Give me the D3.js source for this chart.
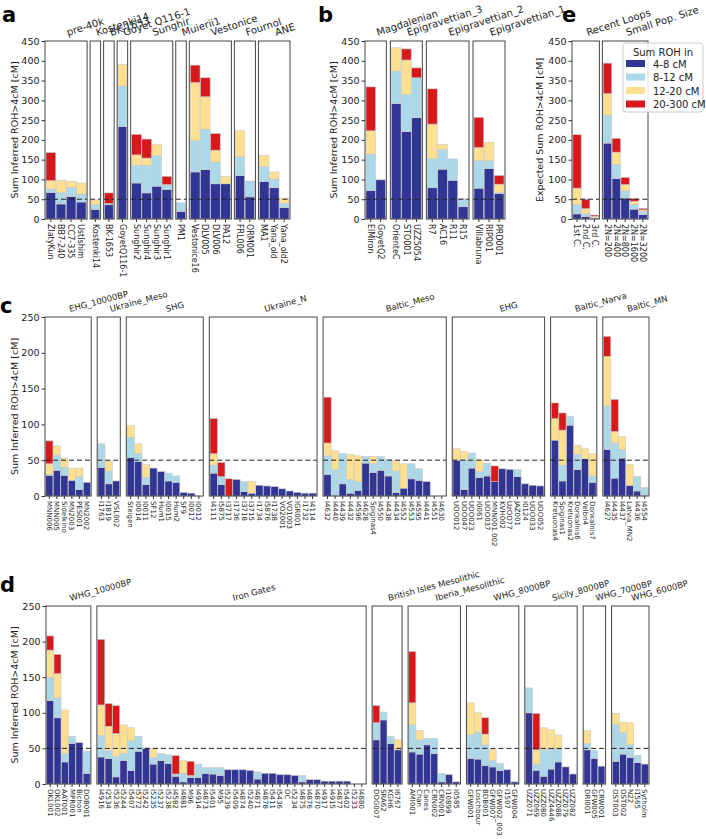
<!DOCTYPE html>
<html><head><meta charset="utf-8">
<script src="https://cdn.jsdelivr.net/npm/d3@7"></script>
<style>body{margin:0;background:#fff} svg{display:block} text{font-family:"DejaVu Sans",sans-serif;fill:#222}</style>
</head><body><svg id="chart" width="706" height="839"></svg>
<script>
// ---------- shared ----------
const rohKeys = ["4-8 cM","8-12 cM","12-20 cM","20-300 cM"];
const rohColors = ["#313695","#abd9e9","#fee090","#d7191c"];

// ---------- panel a ----------
const groupsA = ["pre-40k","Kostenki14","BK-1653","Goyet Q116-1","Sunghir","Muierii1","Vestonice","Fournol","ANE"];
const sizesA = [4,1,1,1,4,1,4,2,3];
const samplesA = ["ZlatyKun","BB7-240","CC7-335","UstIshim","Kostenki14","BK-1653","GoyetQ116-1","Sunghir2","Sunghir4","Sunghir3","Sunghir1","PM1","Vestonice16","DLV005","DLV006","PA12","FRL006","ORM001","MA1","Yana_old","Yana_old2"];
const r48A   = [67,38,57,43,24,36,234,91,66,83,75,19,119,125,89,89,110,56,95,79,29];
const r812A  = [9,29,23,20,12,2,102,45,70,77,11,22,79,102,55,0,47,40,38,22,11];
const r1220A = [21,31,15,28,12,1,55,26,18,28,1,0,147,82,30,18,66,0,28,18,13];
const r20A   = [71,0,0,0,0,27,0,52,48,0,21,0,44,48,42,0,0,0,0,0,0];

// ---------- panel b ----------
const groupsB = ["Magdalenian","Epigravettian_3","Epigravettian_2","Epigravettian_1"];
const sizesB = [2,3,4,3];
const samplesB = ["ElMiron","GoyetQ2","OrienteC","STO001","UZZ5054","R7","AC16","R11","R15","Villabruna","RIP001","PRD001"];
const r48B   = [72,99,292,221,256,79,126,98,31,78,128,64];
const r812B  = [92,0,82,94,101,74,50,54,20,69,19,3];
const r1220B = [59,0,59,87,0,87,13,0,0,34,47,21];
const r20B   = [111,0,0,28,25,89,0,0,0,76,0,22];

// ---------- panel e ----------
const groupsE = ["Recent Loops","Small Pop. Size"];
const sizesE = [3,5];
const samplesE = ["1st C.","2nd C.","3rd C.","2N=200","2N=400","2N=800","2N=1600","2N=3200"];
const r48E   = [13,6,2,192,102,53,25,11];
const r812E  = [23,7,1,70,36,18,12,8];
const r1220E = [42,13,4,55,31,16,8,4];
const r20E   = [135,24,3,77,35,18,7,4];

// ---------- panel c ----------
const groupsC = ["EHG_10000BP","Ukraine_Meso","SHG","Ukraine_N","Baltic_Meso","EHG","Baltic_Narva","Baltic_MN"];
const sizesC = [6,3,10,14,16,12,6,6];
const samplesC = ["MNN006","MNN005","Sidelkino","MN2003","PES001","MN2002",
  "I1763","I1819","VSL002",
  "Steigen","I0014","I0011","SF12","Hum1","I0015","Hum2","SF9","I0017","I0012",
  "I4111","I5875","I3717","I1736","I3718","I3715","I1734","I5876","I1738","VO2001","VO1003","IGR001","I1732","I4114",
  "I4632","I4440","I4439","I4432","I4596","I4628","Spiginas4","I4550","I4438","I4434","I4552","I4553","I4595","I4441","I4551","I4630",
  "UOO012","UOO047","UOO023","I0061","UOO037","MNN001.002","KVH002","UzOO77","JAZ001","I0124","UOO033","UOO052",
  "Kretuonas4","Spiginas1","Kretuonas2","Donkalnis6","Velbri4","Donkalnis7",
  "I4627","I4435","I4437","Latvia_MN2","I4436","I4554"];
const r48C   = [29,36,29,22,9,19, 40,17,21, 54,48,16,39,34,21,19,5,4,0, 32,16,0,23,6,4,15,14,13,10,7,5,4,4,
  30,0,17,4,8,46,33,36,28,5,11,24,22,20,0,0, 50,9,39,26,28,20,38,37,27,17,15,14, 78,21,99,37,52,19, 65,25,53,15,7,0];
const r812C  = [1,21,11,0,18,0, 33,18,0, 28,11,10,0,0,11,9,0,0,0, 11,11,0,0,14,0,0,0,0,0,0,0,0,0,
  26,37,42,19,12,9,12,19,23,30,0,21,16,0,0,0, 0,42,21,8,18,0,0,0,10,0,0,0, 0,22,12,21,0,9, 61,49,12,0,20,12];
const r1220C = [15,13,13,17,12,0, 0,14,0, 16,14,18,0,0,0,0,0,0,0, 16,0,0,0,0,16,0,0,0,0,0,0,0,0,
  18,26,0,35,36,0,10,0,0,14,34,0,0,0,0,0, 16,11,0,17,0,0,0,0,0,0,0,0, 30,49,0,13,14,31, 69,16,18,29,0,0];
const r20C   = [32,0,0,0,0,0, 0,0,0, 0,0,0,0,0,0,0,0,0,0, 49,20,24,0,0,0,0,0,0,0,0,0,0,0,
  64,0,0,0,0,0,0,0,0,0,0,0,0,0,0,0, 0,0,0,0,0,22,0,0,0,0,0,0, 22,24,0,0,0,0, 28,45,0,0,0,0];

// ---------- panel d ----------
const groupsD = ["WHG_10000BP","Iron Gates","British Isles Mesolithic","Iberia_Mesolithic","WHG_8000BP","Sicily_8000BP","WHG_7000BP","WHG_6000BP"];
const sizesD = [6,36,4,7,7,7,3,5];
const samplesD = ["OKL001","OKL002","AAT001","MPR001","Bichon","DOB001",
  "I4916","I2534","I5236","I5244","I5407","I5772","I5242","I5235","I5237","I5238","I4582","I4881","M96","I4914","I4873","I5401","M95","I5239","I5409","I4874","I5240","I4871","I4878","I5411","I5436","OC","I5234","I4875","I4876","I4870","I4917","I4915","I4877","I5402","I5233","I4880",
  "DOG007","SRA62","KGH6","I6767",
  "AMI001","Chan","Canes","CRN002","CRN001","I10899","I0585",
  "GFW001","Loschbour","BDB001","GFW007","GFW002_003","I1507","GFW004",
  "UZZ071","UZZ069","UZZ080","UZZ4446","UZZ088","UZZ079","UZZ082",
  "DRI001","GFW005","CRW001",
  "OST003","OST002","N22","I1565","Sytholm"];
const r48D   = [117,93,31,57,58,15,
  38,36,10,33,19,46,50,28,33,29,11,3,9,9,15,14,12,20,20,20,19,7,15,15,13,13,12,3,6,6,4,4,4,4,0,0,
  62,90,57,48, 45,42,55,43,3,13,3, 36,35,26,24,19,20,3, 100,19,11,21,31,24,14, 48,36,25, 32,42,37,30,28];
const r812D  = [33,28,12,10,1,31,
  30,11,29,10,42,21,1,9,10,12,3,12,3,19,8,9,11,0,0,0,0,10,0,0,0,0,0,9,0,0,0,0,0,0,0,0,
  24,11,10,0, 38,20,9,21,12,0,0, 33,38,29,9,10,0,0, 35,9,37,29,18,0,0, 9,11,0, 52,30,18,10,0];
const r1220D = [38,34,61,0,0,0,
  43,34,32,40,18,0,0,13,0,0,0,18,0,0,0,0,0,0,0,0,0,0,0,0,0,0,0,0,0,0,0,0,0,0,0,0,
  0,0,0,14, 31,13,0,0,0,0,0, 45,27,15,15,0,0,0, 0,20,31,26,20,0,0, 18,0,0, 15,15,31,0,0];
const r20D   = [20,27,0,0,0,0,
  92,32,39,0,0,0,0,0,0,0,26,0,20,0,0,0,0,0,0,0,0,0,0,0,0,0,0,0,0,0,0,0,0,0,0,0,
  24,0,0,0, 72,0,0,0,0,0,0, 0,0,23,0,0,0,0, 0,51,0,0,0,0,0, 0,0,0, 0,0,0,0,0];

const yTicksTop = [0,50,100,150,200,250,300,350,400,450];
const yTicksBottom = [0,50,100,150,200,250];

const svg = d3.select("#chart");

function drawPanel(o) {
  const n = o.samples.length;
  const slot = (o.right - o.left - o.gap * (o.groups.length - 1)) / n;
  const y = d3.scaleLinear().domain([0, o.ymax]).range([o.bottom, o.top]);
  const rows = o.samples.map((s, i) => ({k0: o.s[0][i], k1: o.s[1][i], k2: o.s[2][i], k3: o.s[3][i]}));
  const layers = d3.stack().keys(["k0","k1","k2","k3"])(rows);
  let start = 0, x0 = o.left;
  o.groups.forEach((g, gi) => {
    const cnt = o.sizes[gi];
    const x1 = x0 + cnt * slot;
    const idx = d3.range(start, start + cnt);
    const xb = d3.scaleBand().domain(idx).range([x0, x1]).paddingInner(0.04).paddingOuter(0.1);
    const gEl = svg.append("g");
    layers.forEach((layer, li) => {
      gEl.selectAll(null).data(idx.filter(i => layer[i][1] - layer[i][0] > 0)).join("rect")
        .attr("x", i => xb(i)).attr("width", xb.bandwidth())
        .attr("y", i => y(layer[i][1])).attr("height", i => y(layer[i][0]) - y(layer[i][1]))
        .attr("fill", rohColors[li]).attr("stroke", "#c8c8c8").attr("stroke-width", 0.6);
    });
    gEl.append("line").attr("x1", x0).attr("x2", x1).attr("y1", y(50)).attr("y2", y(50))
      .attr("stroke", "#222").attr("stroke-width", 1).attr("stroke-dasharray", "5,3");
    const ax = gEl.append("g").attr("transform", `translate(0,${o.bottom})`)
      .call(d3.axisBottom(xb).tickFormat(i => o.samples[i]).tickSize(3).tickSizeOuter(0));
    ax.select(".domain").remove();
    ax.selectAll("line").attr("stroke", "#333");
    ax.selectAll("text").attr("transform", "rotate(90)").attr("x", 5).attr("y", 0).attr("dy", "0.35em")
      .attr("text-anchor", "start").attr("font-size", o.xFont).attr("font-family", "DejaVu Sans").attr("fill", "#222");
    gEl.append("rect").attr("x", x0).attr("y", o.top).attr("width", x1 - x0).attr("height", o.bottom - o.top)
      .attr("fill", "none").attr("stroke", "#444").attr("stroke-width", 1);
    const tx = (x0 + x1) / 2 + 2, ty = o.top - 5;
    gEl.append("text").attr("x", tx).attr("y", ty).attr("transform", `rotate(${-o.rot},${tx},${ty})`)
      .attr("font-size", o.titleFont).attr("text-anchor", "start").text(g);
    if (gi === 0) {
      const yAx = gEl.append("g").attr("transform", `translate(${x0},0)`)
        .call(d3.axisLeft(y).tickValues(o.yTicks).tickSize(3.5).tickPadding(2));
      yAx.select(".domain").remove();
      yAx.selectAll("line").attr("stroke", "#333");
      yAx.selectAll("text").attr("font-size", 9.5).attr("font-family", "DejaVu Sans").attr("fill", "#222");
    }
    start += cnt; x0 = x1 + o.gap;
  });
  svg.append("text").attr("transform", `translate(${o.ylabX},${(o.top + o.bottom) / 2}) rotate(-90)`)
    .attr("text-anchor", "middle").attr("font-size", 9.5).text(o.ylab);
  svg.append("text").attr("x", o.letterX).attr("y", o.letterY).attr("font-size", 21).attr("font-weight", "bold")
    .attr("font-family", "Liberation Sans, Arial, sans-serif").style("fill", "#000").text(o.letter);
}

const ylabInf = "Sum Inferred ROH>4cM [cM]";
drawPanel({groups: groupsA, sizes: sizesA, samples: samplesA, s: [r48A, r812A, r1220A, r20A],
  left: 45, right: 290, gap: 3, top: 41, bottom: 219, ymax: 450, yTicks: yTicksTop,
  xFont: 8, titleFont: 10, rot: 18, ylab: ylabInf, ylabX: 18, letter: "a", letterX: 2, letterY: 22});
drawPanel({groups: groupsB, sizes: sizesB, samples: samplesB, s: [r48B, r812B, r1220B, r20B],
  left: 365, right: 505, gap: 4, top: 41, bottom: 219, ymax: 450, yTicks: yTicksTop,
  xFont: 8, titleFont: 10, rot: 18, ylab: ylabInf, ylabX: 337, letter: "b", letterX: 318, letterY: 22});
drawPanel({groups: groupsE, sizes: sizesE, samples: samplesE, s: [r48E, r812E, r1220E, r20E],
  left: 572, right: 648, gap: 3, top: 41, bottom: 219, ymax: 450, yTicks: yTicksTop,
  xFont: 8, titleFont: 10, rot: 18, ylab: "Expected Sum ROH>4cM [cM]", ylabX: 543, letter: "e", letterX: 562, letterY: 22});
drawPanel({groups: groupsC, sizes: sizesC, samples: samplesC, s: [r48C, r812C, r1220C, r20C],
  left: 45, right: 649, gap: 6, top: 317, bottom: 496, ymax: 250, yTicks: yTicksBottom,
  xFont: 7, titleFont: 8.5, rot: 15, ylab: ylabInf, ylabX: 18, letter: "c", letterX: 0, letterY: 313});
drawPanel({groups: groupsD, sizes: sizesD, samples: samplesD, s: [r48D, r812D, r1220D, r20D],
  left: 46, right: 649, gap: 6, top: 606, bottom: 784, ymax: 250, yTicks: yTicksBottom,
  xFont: 7, titleFont: 8.5, rot: 15, ylab: ylabInf, ylabX: 18, letter: "d", letterX: 0, letterY: 592});

// legend
const leg = svg.append("g").attr("transform", "translate(623,43)");
leg.append("rect").attr("width", 80).attr("height", 69).attr("rx", 3).attr("fill", "rgba(255,255,255,0.85)").attr("stroke", "#ccc");
leg.append("text").attr("x", 40).attr("y", 13).attr("text-anchor", "middle").attr("font-size", 10).text("Sum ROH in");
rohKeys.forEach((k, i) => {
  leg.append("rect").attr("x", 3).attr("y", 17 + i * 13.5).attr("width", 19).attr("height", 7).attr("fill", rohColors[i]);
  leg.append("text").attr("x", 30).attr("y", 24.5 + i * 13.5).attr("font-size", 10).text(k);
});
</script></body></html>
